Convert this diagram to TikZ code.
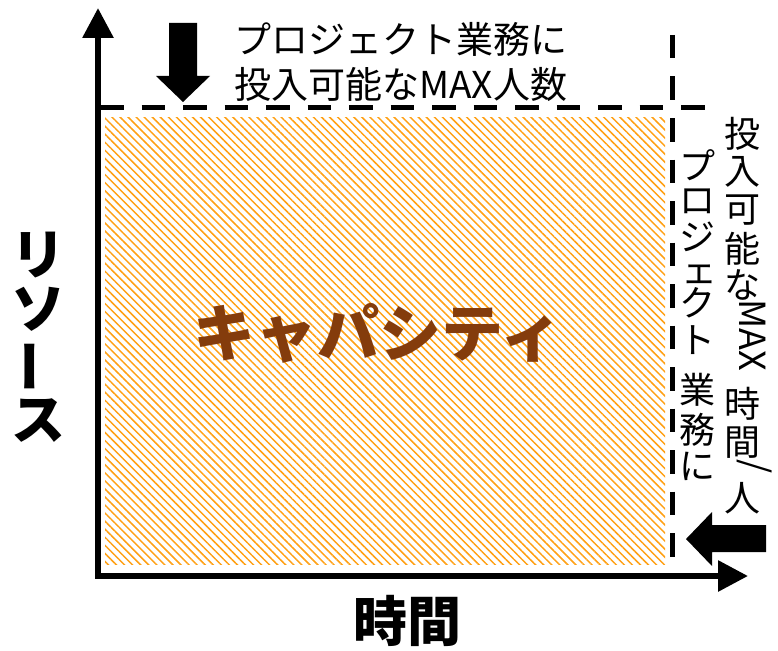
\documentclass[tikz,border=0pt]{standalone}
\usepackage{fontspec}
\newfontfamily\jp{Noto Sans CJK JP}
\usetikzlibrary{patterns.meta,arrows.meta}
\definecolor{hatchorange}{RGB}{255,160,20}
\definecolor{capbrown}{RGB}{132,60,12}
\tikzset{
  axis/.style={line width=6pt,-{Triangle[length=30pt,width=30pt]}},
  maxline/.style={line width=5pt,dash pattern=on 23.5pt off 18pt},
  blockarrow/.style={fill=black},
  vchar/.style={inner sep=0pt,font=\jp\fontsize{36}{36}\selectfont},
  toplabel/.style={inner sep=0pt,align=left,anchor=north west,font=\jp\fontsize{37}{45}\selectfont},
  biglabel/.style={inner sep=0pt,font=\jp\bfseries\fontsize{54}{54}\selectfont},
  caplabel/.style={inner sep=0pt,text=capbrown,font=\jp\bfseries\fontsize{62}{62}\selectfont}
}
\begin{document}
\begin{tikzpicture}[x=1pt,y=-1pt]
\useasboundingbox (0,0) rectangle (778,650);
% capacity area
\path[pattern={Lines[angle=-45,distance=5.7pt,line width=1.5pt]},pattern color=hatchorange]
  (105,117) rectangle (665,564);
\node[caplabel] (cap) at (378,333) {キャパシティ};
% axes
\coordinate (origin) at (98,577);
\coordinate (ytip) at (98,8);
\coordinate (xorigin) at (95,576);
\coordinate (xtip) at (748,576);
\draw[axis] (origin) -- (ytip);
\draw[axis] (xorigin) -- (xtip);
% max lines
\coordinate (h1) at (100,108);
\coordinate (h2) at (720,108);
\coordinate (v1) at (672.5,35);
\coordinate (v2) at (672.5,577);
\draw[maxline] (h1) -- (h2);
\draw[maxline] (v1) -- (v2);
% block arrows
\fill[blockarrow] (169,23) -- (197,23) -- (197,76) -- (210,76) -- (183,102) -- (156,76) -- (169,76) -- cycle;
\fill[blockarrow] (766,525) -- (766,552) -- (712,552) -- (712,566) -- (686,539) -- (712,512) -- (712,525) -- cycle;
% top label
\node[toplabel] (top) at (234,22) {プロジェクト業務に\\投入可能なMAX人数};
% right vertical labels
\foreach \c/\yy [count=\i] in {プ/165,ロ/201,ジ/237,ク/303,ト/340,業/390,務/430,に/466}
  \node[vchar] (a\i) at (697,\yy) {\c};
\node[vchar,anchor=base,text height=0.5em,text depth=0pt] (asmall) at (699,283) {ェ};
\foreach \c/\yy [count=\i] in {投/134,入/172,可/210,能/249,な/285,時/404,間/443,人/498}
  \node[vchar] (b\i) at (742,\yy) {\c};
\node[vchar,rotate=-90] (bmax) at (753,335) {MAX};
\node[vchar,rotate=-90] (bslash) at (755,467) {/};
% axis labels
\node[biglabel] (r1) at (38,255) {リ};
\node[biglabel] (r2) at (38,309) {ソ};
\node[biglabel,rotate=90] (r3) at (38,366) {ー};
\node[biglabel] (r4) at (38,421) {ス};
\node[biglabel] (time) at (407,621) {時間};
\end{tikzpicture}
\end{document}
